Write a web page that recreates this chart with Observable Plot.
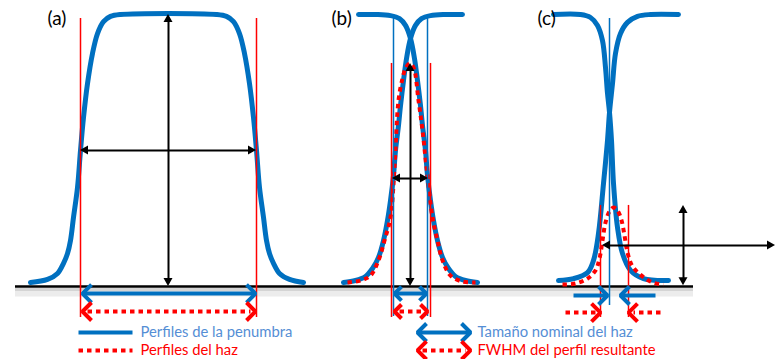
<!DOCTYPE html>
<html><head><meta charset="utf-8">
<script src="https://cdn.jsdelivr.net/npm/d3@7"></script>
<script src="https://cdn.jsdelivr.net/npm/@observablehq/plot@0.6"></script>
<style>body{margin:0;background:#fff}</style>
</head><body><div id="chart"></div>
<script>
// ---- data: [position, relative dose %] ----
const profileA = [[30,1.5],[47,2.6],[57,4.8],[63,8.5],[67,12.1],[70,16.9],[73,25.4],[77,36.4],[80,50],[83,62.1],[87,74.6],[92,85.7],[97,93],[103,97.4],[110,99.3],[120,100],
  [216,100],[226,99.3],[233,97.4],[239,93],[244,85.7],[249,74.6],[253,62.1],[256,50],[259,36.4],[263,25.4],[266,16.9],[269,12.1],[273,8.5],[279,4.8],[289,2.6],[303,1.5]];
const profileBrise = [[343,1.5],[355,2.2],[365,3.7],[372,6.6],[378,10.7],[383,16.9],[387,24.3],[390,31.6],[393,40.8],[395,50],[398,59.2],[400,66.5],[403,75.7],[406,83.8],[410,91.2],[415,96],[421,98.5],[430,99.6],[445,100],[462,100]];
const profileBfall = [[358,100],[375,100],[390,99.6],[399,98.5],[405,96],[410,91.2],[414,83.8],[417,75.7],[420,66.5],[422,59.2],[425,50],[427,40.8],[430,31.6],[433,24.3],[437,16.9],[442,10.7],[448,6.6],[455,3.7],[465,2.2],[477,1.5]];
const beamB = [[347,1.5],[360,2.2],[370,4],[378,9.6],[384,16.9],[390,25.4],[394,43.8],[398,68.4],[402,76.5],[405,80.1],[409,82],[413,80.5],[418,68.4],[422,57.4],[426,43.8],[432,25.4],[437,16.9],[442,9.6],[450,4],[462,1.8],[475,1.5]];
const profileCrise = [[558,2.2],[573,2.9],[587,5.1],[593,9.6],[598,19.5],[603,37.9],[607,53.7],[609,64],[612,74.6],[615,85.7],[620,93],[627,97.1],[637,99.3],[650,100],[678,100]];
const profileCfall = [[553,100],[580,100],[590,98.9],[597,96],[602,90.4],[605,80.5],[607,71],[609,64],[611,53.7],[613,37.9],[617,21.7],[622,12.1],[630,5.9],[643,2.9],[668,2.2]];
const beamC = [[562,0.7],[575,1.1],[587,2.9],[595,5.9],[599,10.3],[602,16.9],[605,23.5],[609,27.6],[613,29],[617,27.9],[621,24.3],[624,18.8],[627,12.5],[632,7.4],[642,3.7],[652,1.5],[663,0.7]];

const baseline = [{x1:15, x2:693, y:0}];
// vertical marker lines
const redEdges = [{x:80,y1:98.5,y2:-11.4},{x:256,y1:98.5,y2:-11.4},{x:391,y1:82,y2:-11.4},{x:430,y1:82,y2:-11.4},{x:600,y1:29.8,y2:-11.4},{x:628,y1:29.8,y2:-11.4}];
const blueEdges = [{x:393,y1:99.6,y2:-11},{x:427,y1:99.6,y2:-11},{x:609,y1:98.5,y2:-7}];
// black double arrows
const blackH = [{x1:80,x2:256,y:50},{x1:392,x2:428,y:39.7},{x1:602,x2:775,y:15.1}];
const blackV = [{x:168,y1:100,y2:0},{x:410,y1:82,y2:0},{x:683,y1:29.8,y2:0.3}];
// nominal size (blue) and FWHM (red dotted) double arrows, incl. legend swatches
const nominal = [{x1:82,x2:255,y:-2.6,h:9},{x1:394,x2:426,y:-2.6,h:7},{x1:417,x2:470,y:-16.9,h:9}];
const fwhm = [{x1:82,x2:255,y:-9.2,h:9},{x1:394,x2:427,y:-9.2,h:7},{x1:417,x2:470,y:-23.5,h:9}];
// single converging arrows under panel (c)
const nominalC = [{from:573,to:607,y:-3.3},{from:655,to:620,y:-3.3}];
const fwhmC = [{from:565,to:600,y:-9.6},{from:660,to:628,y:-9.6}];
// legend
const legendPen = [{x1:78,x2:132,y:-16.9}];
const legendBeam = [{x1:78,x2:132,y:-23.5}];
const legendTexts = [
  {x:140,y:-16.9,text:"Perfiles de la penumbra",c:"#558ed5"},
  {x:140,y:-23.5,text:"Perfiles del haz",c:"#ff0000"},
  {x:477,y:-16.9,text:"Tamaño nominal del haz",c:"#558ed5"},
  {x:477,y:-23.5,text:"FWHM del perfil resultante",c:"#ff0000"}];
const panelLabels = [{x:47,y:98.3,text:"(a)"},{x:331,y:98.3,text:"(b)"},{x:537,y:98.3,text:"(c)"}];

// ---- styling constants ----
const BLUE = "#0070c0", RED = "#ff0000";
const K = 2.72; // pixels per dose unit on the y scale (for head sizing)

const toRows = (arr, id) => arr.map(([x, y]) => ({x, y, id}));
const penRows = [...toRows(profileA,"a"),...toRows(profileBrise,"br"),...toRows(profileBfall,"bf"),...toRows(profileCrise,"cr"),...toRows(profileCfall,"cf")];
const beamRows = [...toRows(beamB,"b"),...toRows(beamC,"c")];

// chevron (open) arrow heads
let hid = 0;
function chev(xTip, y, dir, h) { // dir +1 : points right
  const id = "c" + (hid++);
  return [{x:xTip - dir*h, y:y + h/K, id},{x:xTip, y, id},{x:xTip - dir*h, y:y - h/K, id}];
}
const blueHeads = [], redHeads = [];
nominal.forEach(d => { blueHeads.push(...chev(d.x1, d.y, -1, d.h), ...chev(d.x2, d.y, 1, d.h)); });
fwhm.forEach(d => { redHeads.push(...chev(d.x1, d.y, -1, d.h), ...chev(d.x2, d.y, 1, d.h)); });
nominalC.forEach(d => blueHeads.push(...chev(d.to, d.y, Math.sign(d.to - d.from), 9)));
fwhmC.forEach(d => redHeads.push(...chev(d.to, d.y, Math.sign(d.to - d.from), 9)));

// filled black triangle heads
const L = 8, W = 4.5;
const triH = [], triV = [];
let tid = 0;
blackH.forEach(d => {
  let id = "h" + (tid++);
  triH.push({x:d.x1, y1:d.y, y2:d.y, id}, {x:d.x1 + L, y1:d.y - W/K, y2:d.y + W/K, id});
  id = "h" + (tid++);
  triH.push({x:d.x2 - L, y1:d.y - W/K, y2:d.y + W/K, id}, {x:d.x2, y1:d.y, y2:d.y, id});
});
blackV.forEach(d => {
  let id = "v" + (tid++);
  triV.push({y:d.y1, x1:d.x, x2:d.x, id}, {y:d.y1 - L/K, x1:d.x - W, x2:d.x + W, id});
  id = "v" + (tid++);
  triV.push({y:d.y2 + L/K, x1:d.x - W, x2:d.x + W, id}, {y:d.y2, x1:d.x, x2:d.x, id});
});

const dash = "4.5,4";
const chart = Plot.plot({
  width: 779, height: 359,
  margin: 0,
  x: {domain: [0, 779], range: [0, 779], axis: null},
  y: {domain: [0, 100], range: [286, 14], axis: null},
  style: {background: "#fff", fontFamily: "Lato, 'Open Sans', sans-serif"},
  marks: [
    // baseline shadow + baseline
    Plot.ruleY(baseline, {y:"y", x1:"x1", x2:"x2", stroke:"#ececec", strokeWidth:8, dy:6}),
    Plot.ruleY(baseline, {y:"y", x1:"x1", x2:"x2", stroke:"#d4d4d4", strokeWidth:3, dy:3}),
    Plot.ruleY(baseline, {y:"y", x1:"x1", x2:"x2", stroke:"#000", strokeWidth:2.5}),
    // profiles
    Plot.line(penRows, {x:"x", y:"y", z:"id", stroke:BLUE, strokeWidth:5, curve:"catmull-rom"}),
    Plot.line(beamRows, {x:"x", y:"y", z:"id", stroke:RED, strokeWidth:4, strokeDasharray:dash, strokeLinecap:"butt", curve:"catmull-rom"}),
    // edge lines
    Plot.ruleX(blueEdges, {x:"x", y1:"y1", y2:"y2", stroke:BLUE, strokeWidth:1.5}),
    Plot.ruleX(redEdges, {x:"x", y1:"y1", y2:"y2", stroke:RED, strokeWidth:1.5}),
    // black double arrows
    Plot.link(blackH, {x1:d => d.x1 + 4, x2:d => d.x2 - 4, y1:"y", y2:"y", stroke:"#000", strokeWidth:2}),
    Plot.link(blackV, {x1:"x", x2:"x", y1:d => d.y1 - 4/K, y2:d => d.y2 + 4/K, stroke:"#000", strokeWidth:2}),
    Plot.areaY(triH, {x:"x", y1:"y1", y2:"y2", z:"id", fill:"#000"}),
    Plot.areaX(triV, {y:"y", x1:"x1", x2:"x2", z:"id", fill:"#000"}),
    // nominal size arrows (blue)
    Plot.link(nominal, {x1:"x1", x2:"x2", y1:"y", y2:"y", stroke:BLUE, strokeWidth:4}),
    Plot.link(nominalC, {x1:"from", x2:"to", y1:"y", y2:"y", stroke:BLUE, strokeWidth:4}),
    Plot.line(blueHeads, {x:"x", y:"y", z:"id", stroke:BLUE, strokeWidth:4, strokeLinejoin:"miter", strokeLinecap:"butt"}),
    // FWHM arrows (red dotted)
    Plot.link(fwhm, {x1:d => d.x1 + 5, x2:d => d.x2 - 5, y1:"y", y2:"y", stroke:RED, strokeWidth:4, strokeDasharray:dash, strokeLinecap:"butt"}),
    Plot.link(fwhmC, {x1:"from", x2:d => d.to - Math.sign(d.to - d.from)*5, y1:"y", y2:"y", stroke:RED, strokeWidth:4, strokeDasharray:dash, strokeLinecap:"butt"}),
    Plot.line(redHeads, {x:"x", y:"y", z:"id", stroke:RED, strokeWidth:4, strokeLinejoin:"miter", strokeLinecap:"butt"}),
    // legend
    Plot.link(legendPen, {x1:"x1", x2:"x2", y1:"y", y2:"y", stroke:BLUE, strokeWidth:4}),
    Plot.link(legendBeam, {x1:"x1", x2:"x2", y1:"y", y2:"y", stroke:RED, strokeWidth:4, strokeDasharray:dash, strokeLinecap:"butt"}),
    Plot.text(legendTexts, {x:"x", y:"y", text:"text", fill:d => d.c, textAnchor:"start", fontSize:14.8}),
    Plot.text(panelLabels, {x:"x", y:"y", text:"text", fill:"#000", textAnchor:"start", fontSize:19})
  ]
});
document.getElementById("chart").appendChild(chart);
</script>
</body></html>
